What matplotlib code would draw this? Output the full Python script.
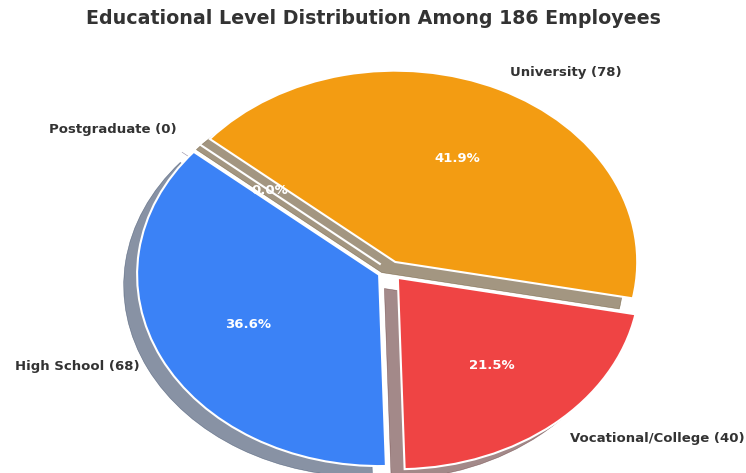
import matplotlib
matplotlib.use("Agg")
import matplotlib.pyplot as plt

categories = ["High School", "Vocational/College", "University", "Postgraduate"]
counts = [68, 40, 78, 0]
colors = ["#3B82F6", "#EF4444", "#F39C12", "#8B5CF6"]
explode = [0.05, 0.05, 0.05, 0.05]
title = "Educational Level Distribution Among 186 Employees"

labels = [f"{c} ({n})" for c, n in zip(categories, counts)]

fig = plt.figure(figsize=(7.46, 4.73), dpi=100)
W, H = 746, 473
cx, cy, rx, ry = 390, 270.6, 242, 191.3
ax = fig.add_axes([(cx - 1.25 * rx) / W, (H - cy - 1.25 * ry) / H,
                   2.5 * rx / W, 2.5 * ry / H])

wedges, texts, autotexts = ax.pie(
    counts, labels=labels, colors=colors, explode=explode,
    autopct="%1.1f%%", startangle=140,
    shadow={"ox": -0.04, "oy": -0.04, "linewidth": 0.4},
    wedgeprops={"edgecolor": "white", "linewidth": 1.5},
    textprops={"fontsize": 9.5, "fontweight": "bold", "color": "#333333"},
)
for t in autotexts:
    t.set_color("white")
    t.set_fontsize(9.5)
    t.set_fontweight("bold")

ax.set_aspect("auto")
ax.set_xlim(-1.25, 1.25)
ax.set_ylim(-1.25, 1.25)

fig.text(0.5, 1 - 18 / H, title, ha="center", va="center",
         fontsize=13.7, fontweight="bold", color="#333333")

fig.savefig("out.png", dpi=100)
